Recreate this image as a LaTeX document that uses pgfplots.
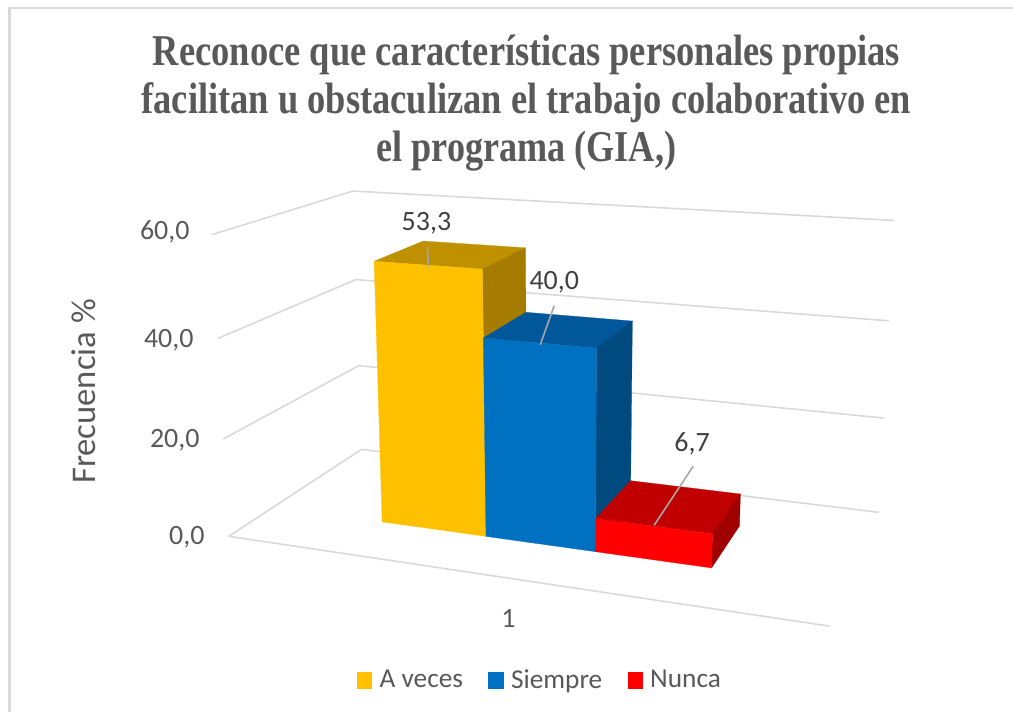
\documentclass[border=0pt]{standalone}
\usepackage{pgfplots}
\pgfplotsset{compat=1.18}
\usepackage{graphicx}
\usepackage{fontspec}
\setmainfont{Carlito}
\newfontfamily\titlefont{Liberation Serif}

\definecolor{txt}{HTML}{595959}
\definecolor{gridc}{HTML}{D9D9D9}
\definecolor{leader}{HTML}{A6A6A6}
\definecolor{amarillo}{HTML}{FFC000}
\definecolor{amarillotop}{HTML}{BF9000}
\definecolor{amarilloside}{HTML}{A67C00}
\definecolor{azul}{HTML}{0070C0}
\definecolor{azultop}{HTML}{00589A}
\definecolor{azulside}{HTML}{004A80}
\definecolor{rojo}{HTML}{FF0000}
\definecolor{rojotop}{HTML}{C00000}
\definecolor{rojoside}{HTML}{A00000}

% perspective of the 3D box: u along the front, v in depth, z the value (0-60)
\pgfmathdeclarefunction{pw}{3}{\pgfmathparse{1-0.1399*#1+0.1754*#2-0.0478*#3/60}}
\pgfmathdeclarefunction{px}{3}{\pgfmathparse{(229+485.74*#1+196.5*#2-27.13*#3/60)/pw(#1,#2,#3)}}
\pgfmathdeclarefunction{py}{3}{\pgfmathparse{(537+2.28*#1-8.07*#2-313.23*#3/60)/pw(#1,#2,#3)}}
\pgfplotsset{/pgfplots/table/box3d/.style={x expr={px(\thisrow{u},\thisrow{v},\thisrow{z})},
    y expr={py(\thisrow{u},\thisrow{v},\thisrow{z})},row sep=\\}}

% grid line at height #1
\newcommand{\gridat}[1]{%
  \addplot[forget plot,gridc,line width=1.2pt] table[box3d] {u v z\\ 0 0 #1\\ 0 1 #1\\ 1 1 #1\\};}
% bar from u=#1 to u=#2, value #3, colours #4 front, #5 top, #6 side
\newcommand{\barra}[6]{%
  \addplot[forget plot,fill=#5,draw=#5,line width=0.2pt] table[box3d] {u v z\\ #1 0.305 #3\\ #2 0.305 #3\\ #2 0.70 #3\\ #1 0.70 #3\\} --cycle;
  \addplot[forget plot,fill=#6,draw=#6,line width=0.2pt] table[box3d] {u v z\\ #2 0.305 0\\ #2 0.70 0\\ #2 0.70 #3\\ #2 0.305 #3\\} --cycle;
  \addplot[forget plot,fill=#4,draw=#4,line width=0.2pt] table[box3d] {u v z\\ #1 0.305 0\\ #2 0.305 0\\ #2 0.305 #3\\ #1 0.305 #3\\} --cycle;}

\begin{document}
\begin{tikzpicture}
\begin{axis}[
    hide axis,
    scale only axis,
    width=760.5pt,
    height=534.75pt,
    xmin=0, xmax=1014,
    ymin=0, ymax=713,
    y dir=reverse,
    clip=false,
    legend style={at={(axis cs:541,681)},anchor=center,draw=none,fill=none,
        legend columns=-1,font=\fontsize{20.5}{20.5}\selectfont,text=txt,
        /tikz/every even column/.append style={column sep=17pt},inner sep=0pt},
    legend image code/.code={\path[draw=none,#1] (0pt,-6.3pt) rectangle (11.5pt,6.3pt);\path[draw=none,fill=none] (0pt,0pt) -- (15pt,0pt);},
]
% page size
\path (axis cs:0,0) rectangle (axis cs:1014,713);
% picture frame
\addplot[forget plot,gridc,line width=2pt] coordinates {(9.5,713) (9.5,8) (1014,8)};

\gridat{0}
\gridat{20}
\gridat{40}
\gridat{60}
\addplot[forget plot,gridc,line width=1.2pt] table[box3d] {u v z\\ 0 0 0\\ 1 0 0\\};

\barra{0.2117}{0.404}{53.3}{amarillo}{amarillotop}{amarilloside}
\barra{0.404}{0.596}{40.0}{azul}{azultop}{azulside}
\barra{0.596}{0.7887}{6.7}{rojo}{rojotop}{rojoside}

% leader lines of the value labels
\addplot[forget plot,leader,line width=1.2pt] coordinates {(428,247) (429,267)};
\addplot[forget plot,leader,line width=1.2pt] coordinates {(555,306) (541,345)};
\addplot[forget plot,leader,line width=1.2pt] coordinates {(694,467) (655,526)};

\addlegendimage{fill=amarillo}\addlegendentry{A veces}
\addlegendimage{fill=azul}\addlegendentry{Siempre}
\addlegendimage{fill=rojo}\addlegendentry{Nunca}

\node[text=txt,font=\titlefont\bfseries\fontsize{33}{33}\selectfont,anchor=base] at (axis cs:527,66)
    {\resizebox{561pt}{\height}{Reconoce que características personales propias}};
\node[text=txt,font=\titlefont\bfseries\fontsize{33}{33}\selectfont,anchor=base] at (axis cs:527,114)
    {\resizebox{578pt}{\height}{facilitan u obstaculizan el trabajo colaborativo en}};
\node[text=txt,font=\titlefont\bfseries\fontsize{33}{33}\selectfont,anchor=base] at (axis cs:527,162)
    {\resizebox{225pt}{\height}{el programa (GIA,)}};

\node[text=txt,font=\fontsize{21}{21}\selectfont] at (axis cs:165,232) {60,0};
\node[text=txt,font=\fontsize{21}{21}\selectfont] at (axis cs:169,341) {40,0};
\node[text=txt,font=\fontsize{21}{21}\selectfont] at (axis cs:175,441) {20,0};
\node[text=txt,font=\fontsize{21}{21}\selectfont] at (axis cs:187,538) {0,0};
\node[text=txt,font=\fontsize{26}{26}\selectfont,rotate=90] at (axis cs:84,392) {Frecuencia \%};
\node[text=txt,font=\fontsize{21}{21}\selectfont] at (axis cs:509,619) {1};

\node[text=black!75,font=\fontsize{21}{21}\selectfont] at (axis cs:427,224) {53,3};
\node[text=black!75,font=\fontsize{21}{21}\selectfont] at (axis cs:555,283) {40,0};
\node[text=black!75,font=\fontsize{21}{21}\selectfont] at (axis cs:693,444) {6,7};
\end{axis}
\end{tikzpicture}
\end{document}
